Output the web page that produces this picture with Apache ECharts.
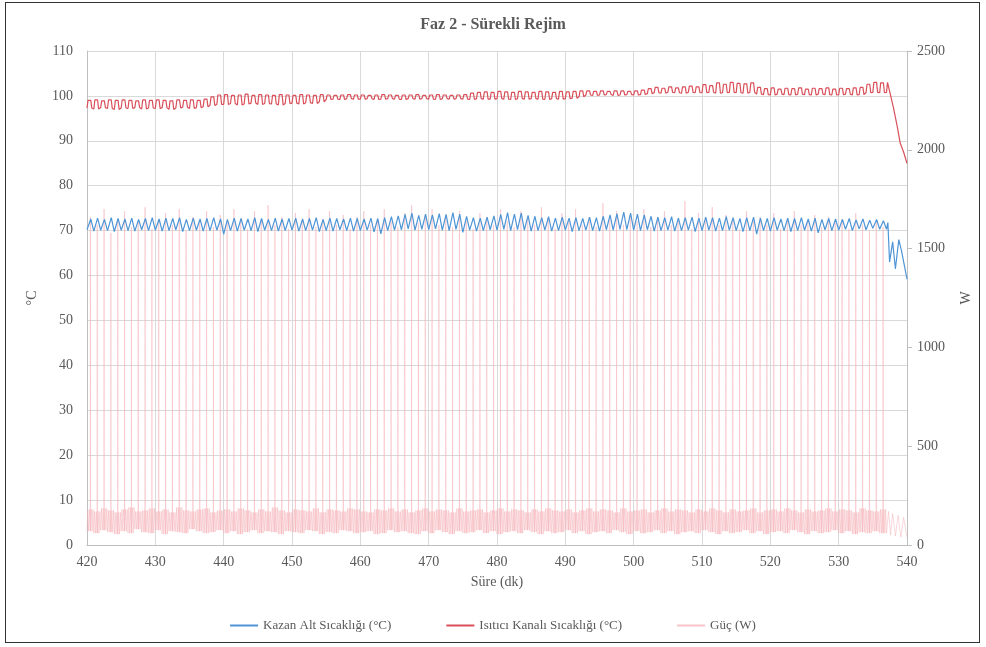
<!DOCTYPE html>
<html>
<head>
<meta charset="utf-8">
<script src="https://cdn.jsdelivr.net/npm/echarts@6/dist/echarts.min.js"></script>
<style>
  html, body { margin: 0; padding: 0; background: #fff; }
  #frame { position: absolute; left: 5px; top: 2px; width: 973px; height: 639px; border: 1.5px solid #333; }
  #chart { position: absolute; left: 0; top: 0; width: 986px; height: 647px; }
</style>
</head>
<body>
<div id="frame"></div>
<div id="chart"></div>
<script>
// dakika 420 .. 536, her dakika bir çevrim
const startMin = 420;

// Kazan Alt Sıcaklığı (°C) - çevrim dip / tepe
const kazanLow = [
  70.2, 69.9, 70.1, 70.0, 69.8, 70.1, 70.0, 69.9, 70.2, 70.0,
  70.1, 69.9, 70.0, 70.2, 69.8, 70.0, 70.1, 69.9, 70.0, 70.1,
  69.2, 70.0, 69.9, 70.1, 70.0, 69.8, 70.1, 70.0, 69.9, 70.0,
  70.1, 69.9, 70.0, 70.1, 69.8, 70.0, 69.9, 70.2, 70.0, 69.9,
  70.0, 70.1, 69.7, 69.3, 70.0, 70.1, 70.2, 70.4, 70.1, 70.3,
  70.2, 70.4, 70.1, 70.0, 70.3, 69.6, 70.1, 69.9, 70.0, 70.2,
  70.1, 70.3, 70.0, 70.2, 70.1, 69.9, 70.0, 70.1, 69.9, 70.0,
  70.1, 69.8, 70.0, 70.1, 70.0, 69.9, 70.2, 70.1, 70.3, 70.2,
  70.1, 70.0, 70.2, 69.9, 70.0, 70.1, 69.9, 70.0, 70.1, 69.8,
  70.0, 70.1, 69.9, 70.0, 70.1, 70.0, 69.8, 70.0, 69.2, 70.0,
  69.9, 70.1, 70.0, 69.8, 70.0, 70.1, 69.9, 69.5, 70.2, 70.0,
  70.1, 70.3, 70.0, 70.4, 70.2, 70.5, 70.3
];
const kazanHigh = [
  72.6, 72.8, 72.5, 72.9, 72.7, 72.6, 72.8, 72.5, 72.7, 72.9,
  72.6, 72.8, 72.7, 72.9, 72.5, 72.8, 72.6, 72.7, 72.9, 72.6,
  72.5, 72.8, 72.7, 72.6, 72.9, 72.7, 72.5, 72.8, 72.6, 72.7,
  72.8, 72.6, 72.7, 72.9, 72.5, 72.8, 72.7, 72.6, 72.8, 72.7,
  72.6, 72.8, 72.7, 72.9, 73.1, 73.3, 73.6, 73.9, 73.4, 73.7,
  73.5, 73.8, 73.6, 74.0, 73.7, 73.2, 72.9, 72.8, 73.0, 73.3,
  73.6, 74.0, 73.7, 73.9, 73.4, 73.2, 72.9, 73.1, 72.8, 73.0,
  72.8, 72.9, 72.7, 73.0, 72.9, 73.2, 73.5, 73.8, 74.1, 73.9,
  73.7, 73.5, 73.2, 73.0, 72.9, 73.1, 72.8, 72.9, 73.0, 72.8,
  73.0, 72.9, 72.8, 73.1, 72.9, 72.7, 72.9, 73.0, 72.8, 72.7,
  72.9, 72.6, 72.8, 72.7, 72.9, 72.6, 72.8, 72.5, 72.7, 72.6,
  72.5, 72.7, 72.4, 72.6, 72.3, 72.5, 72.2
];
// son dakikalar (537-540) düşüş
const kazanTailT = [537.0, 537.2, 537.45, 537.9, 538.3, 538.8, 539.2, 540.0];
const kazanTailV = [70.3, 71.8, 63.0, 67.5, 61.5, 68.0, 65.5, 59.2];

// Isıtıcı Kanalı Sıcaklığı (°C) - çevrim alt / üst
const kanalLow = [
  97.3, 97.1, 97.4, 97.2, 97.0, 97.3, 97.2, 97.4, 97.1, 97.3,
  97.2, 97.4, 97.0, 97.3, 97.5, 97.2, 97.4, 97.6, 97.9, 98.1,
  98.1, 98.3, 98.0, 98.2, 98.4, 98.1, 98.3, 98.2, 98.0, 98.3,
  98.4, 98.2, 98.5, 98.3, 98.7, 99.2, 99.3, 99.2, 99.4, 99.3,
  99.3, 99.4, 99.2, 99.3, 99.4, 99.3, 99.2, 99.4, 99.3, 99.4,
  99.3, 99.2, 99.4, 99.3, 99.4, 99.3, 99.2, 99.4, 99.3, 99.3,
  99.4, 99.3, 99.2, 99.4, 99.3, 99.4, 99.3, 99.2, 99.4, 99.3,
  99.4, 99.5, 99.8, 100.2, 100.1, 100.2, 100.3, 100.1, 100.2, 100.3,
  100.2, 100.3, 100.5, 100.7, 100.6, 100.8, 100.7, 100.6, 100.8, 100.7,
  100.7, 100.8, 100.6, 100.7, 100.8, 100.7, 100.6, 100.8, 100.4, 100.3,
  100.2, 100.4, 100.3, 100.2, 100.4, 100.3, 100.2, 100.4, 100.3, 100.2,
  100.3, 100.4, 100.2, 100.3, 100.7, 100.8, 100.7
];
const kanalHigh = [
  99.0, 99.1, 98.9, 99.1, 99.0, 99.1, 99.0, 98.9, 99.1, 99.0,
  99.1, 99.0, 98.9, 99.1, 99.0, 99.1, 99.0, 99.3, 99.8, 100.2,
  100.3, 100.1, 100.2, 100.4, 100.1, 100.3, 100.2, 100.1, 100.3, 100.2,
  100.1, 100.3, 100.2, 100.1, 100.3, 100.2, 100.1, 100.2, 100.3, 100.2,
  100.2, 100.1, 100.2, 100.3, 100.2, 100.1, 100.2, 100.2, 100.3, 100.1,
  100.2, 100.3, 100.2, 100.1, 100.2, 100.3, 100.6, 100.8, 100.9, 100.8,
  101.0, 100.9, 100.8, 101.0, 100.9, 100.8, 101.0, 100.9, 100.8, 101.0,
  100.9, 101.0, 101.1, 101.1, 101.0, 101.1, 101.0, 101.1, 101.1, 101.0,
  101.1, 101.3, 101.6, 101.9, 101.7, 102.0, 101.8, 102.0, 102.2, 102.0,
  102.5, 102.3, 102.9, 102.6, 103.0, 102.8, 102.7, 102.9, 101.9, 101.6,
  101.8, 101.5, 101.7, 101.6, 101.8, 101.5, 101.7, 101.6, 101.8, 101.5,
  101.7, 101.6, 101.8, 101.9, 102.6, 103.0, 102.9
];
const kanalTailT = [537.0, 537.15, 537.4, 538.0, 538.6, 539.0, 539.5, 540.0];
const kanalTailV = [100.8, 103.0, 102.8, 97.5, 93.0, 89.5, 87.5, 85.0];

// Güç (W) - tepe ve taban seviyeleri
const gucTepe = [
  1660, 1620, 1700, 1580, 1650, 1690, 1610, 1640, 1710, 1600,
  1650, 1680, 1620, 1700, 1590, 1660, 1640, 1690, 1610, 1670,
  1630, 1700, 1650, 1600, 1690, 1640, 1720, 1620, 1660, 1600,
  1680, 1640, 1700, 1610, 1650, 1690, 1620, 1670, 1600, 1660,
  1690, 1620, 1650, 1700, 1640, 1610, 1680, 1720, 1630, 1670,
  1700, 1620, 1660, 1610, 1690, 1640, 1600, 1680, 1650, 1620,
  1700, 1640, 1610, 1690, 1650, 1620, 1710, 1660, 1600, 1680,
  1640, 1700, 1620, 1660, 1610, 1730, 1650, 1690, 1620, 1670,
  1640, 1700, 1610, 1660, 1690, 1620, 1650, 1740, 1600, 1680,
  1640, 1710, 1620, 1670, 1650, 1600, 1690, 1640, 1660, 1620,
  1680, 1600, 1650, 1690, 1620, 1640, 1670, 1610, 1660, 1630,
  1650, 1600, 1680, 1620, 1590, 1640, 1610
];
const gucTabanAlt = [
  70, 60, 75, 65, 55, 70, 60, 80, 65, 60,
  75, 55, 70, 65, 60, 80, 70, 60, 65, 75,
  60, 70, 55, 65, 75, 60, 70, 65, 55, 70,
  65, 60, 75, 70, 55, 65, 60, 75, 70, 60,
  65, 70, 55, 60, 75, 65, 70, 60, 55, 70,
  60, 75, 65, 55, 70, 60, 65, 75, 60, 70,
  55, 65, 70, 60, 75, 65, 55, 70, 60, 65,
  75, 60, 70, 55, 65, 70, 60, 75, 65, 55,
  70, 60, 65, 75, 60, 70, 55, 65, 70, 60,
  75, 65, 55, 70, 60, 65, 75, 60, 70, 55,
  65, 70, 60, 75, 65, 55, 70, 60, 65, 75,
  60, 70, 55, 65, 60, 70, 60
];
const gucTabanUst = [
  180, 170, 185, 175, 165, 180, 190, 170, 175, 185,
  170, 180, 165, 190, 175, 170, 180, 185, 165, 175,
  180, 170, 185, 175, 165, 180, 170, 190, 175, 165,
  180, 175, 170, 185, 165, 180, 175, 170, 185, 180,
  170, 165, 180, 175, 185, 170, 180, 165, 175, 185,
  170, 180, 175, 165, 185, 170, 175, 180, 165, 175,
  185, 170, 180, 175, 165, 180, 170, 185, 175, 170,
  180, 165, 175, 185, 170, 180, 175, 165, 185, 170,
  175, 180, 165, 175, 185, 170, 180, 175, 165, 180,
  170, 185, 175, 165, 180, 170, 175, 185, 165, 175,
  180, 170, 185, 175, 165, 180, 170, 175, 185, 170,
  180, 175, 165, 185, 175, 170, 180
];
const gucTailT = [537.0, 537.3, 537.6, 537.9, 538.3, 538.7, 539.1, 539.5, 540.0];
const gucTailV = [60, 170, 50, 160, 45, 150, 40, 140, 40];

// seriler için nokta dizileri
const kazanData = [];
const kanalData = [];
const gucData = [];
for (let i = 0; i < kazanLow.length; i++) {
  const t = startMin + i;
  kazanData.push([t, kazanLow[i]], [t + 0.55, kazanHigh[i]]);
  kanalData.push([t, kanalLow[i]], [t + 0.15, kanalHigh[i]], [t + 0.55, kanalHigh[i]], [t + 0.7, kanalLow[i]]);
  gucData.push(
    [t, gucTabanAlt[i]], [t + 0.12, gucTabanUst[i]], [t + 0.24, gucTabanAlt[i]], [t + 0.36, gucTabanUst[i]],
    [t + 0.48, gucTabanAlt[i]], [t + 0.5, gucTepe[i]], [t + 0.52, gucTabanAlt[i]],
    [t + 0.64, gucTabanUst[i]], [t + 0.76, gucTabanAlt[i]], [t + 0.88, gucTabanUst[i]]
  );
}
kazanTailT.forEach((t, i) => kazanData.push([t, kazanTailV[i]]));
kanalTailT.forEach((t, i) => kanalData.push([t, kanalTailV[i]]));
gucTailT.forEach((t, i) => gucData.push([t, gucTailV[i]]));

const serif = 'Liberation Serif';
const textColor = '#595959';

var myChart = echarts.init(document.getElementById('chart'));
myChart.setOption({
  animation: false,
  title: {
    text: 'Faz 2 - Sürekli Rejim',
    left: 'center',
    top: 12,
    textStyle: { fontFamily: serif, fontSize: 16, fontWeight: 'bold', color: textColor }
  },
  legend: {
    bottom: 10,
    left: 'center',
    itemGap: 55,
    itemWidth: 28,
    itemHeight: 2,
    icon: 'rect',
    data: ['Kazan Alt Sıcaklığı (°C)', 'Isıtıcı Kanalı Sıcaklığı (°C)', 'Güç (W)'],
    textStyle: { fontFamily: serif, fontSize: 13, color: textColor }
  },
  grid: { left: 87, right: 79, top: 51, bottom: 102 },
  xAxis: {
    type: 'value',
    min: 420,
    max: 540,
    interval: 10,
    name: 'Süre (dk)',
    nameLocation: 'middle',
    nameGap: 30,
    nameTextStyle: { fontFamily: serif, fontSize: 14, color: textColor },
    axisLine: { show: true, lineStyle: { color: '#bfbfbf' } },
    axisTick: { show: false },
    axisLabel: { fontFamily: serif, fontSize: 14, color: textColor, margin: 10 },
    splitLine: { show: true, lineStyle: { color: '#d9d9d9' } }
  },
  yAxis: [
    {
      type: 'value',
      min: 0,
      max: 110,
      interval: 10,
      name: '°C',
      nameLocation: 'middle',
      nameGap: 48,
      nameTextStyle: { fontFamily: serif, fontSize: 14, color: textColor },
      axisLine: { show: true, lineStyle: { color: '#bfbfbf' } },
      axisTick: { show: false },
      axisLabel: { fontFamily: serif, fontSize: 14, color: textColor, margin: 14 },
      splitLine: { show: true, lineStyle: { color: '#d9d9d9' } }
    },
    {
      type: 'value',
      min: 0,
      max: 2500,
      interval: 500,
      name: 'W',
      nameLocation: 'middle',
      nameGap: 52,
      nameRotate: 90,
      nameTextStyle: { fontFamily: serif, fontSize: 14, color: textColor },
      axisLine: { show: true, lineStyle: { color: '#bfbfbf' } },
      axisTick: { show: true, length: 5, lineStyle: { color: '#bfbfbf' } },
      axisLabel: { fontFamily: serif, fontSize: 14, color: textColor, margin: 10, formatter: (v) => String(v) },
      splitLine: { show: false }
    }
  ],
  series: [
    {
      name: 'Güç (W)',
      type: 'line',
      yAxisIndex: 1,
      data: gucData,
      showSymbol: false,
      symbol: 'none',
      z: 1,
      color: '#f6c3c7',
      lineStyle: { width: 1, color: '#f6b3b9', opacity: 0.5 }
    },
    {
      name: 'Kazan Alt Sıcaklığı (°C)',
      type: 'line',
      yAxisIndex: 0,
      data: kazanData,
      showSymbol: false,
      symbol: 'none',
      z: 3,
      color: '#4f95d6',
      lineStyle: { width: 1.2, color: '#4f95d6' }
    },
    {
      name: 'Isıtıcı Kanalı Sıcaklığı (°C)',
      type: 'line',
      yAxisIndex: 0,
      data: kanalData,
      showSymbol: false,
      symbol: 'none',
      z: 3,
      color: '#d9505a',
      lineStyle: { width: 1.2, color: '#d9505a' }
    }
  ]
});
</script>
</body>
</html>
